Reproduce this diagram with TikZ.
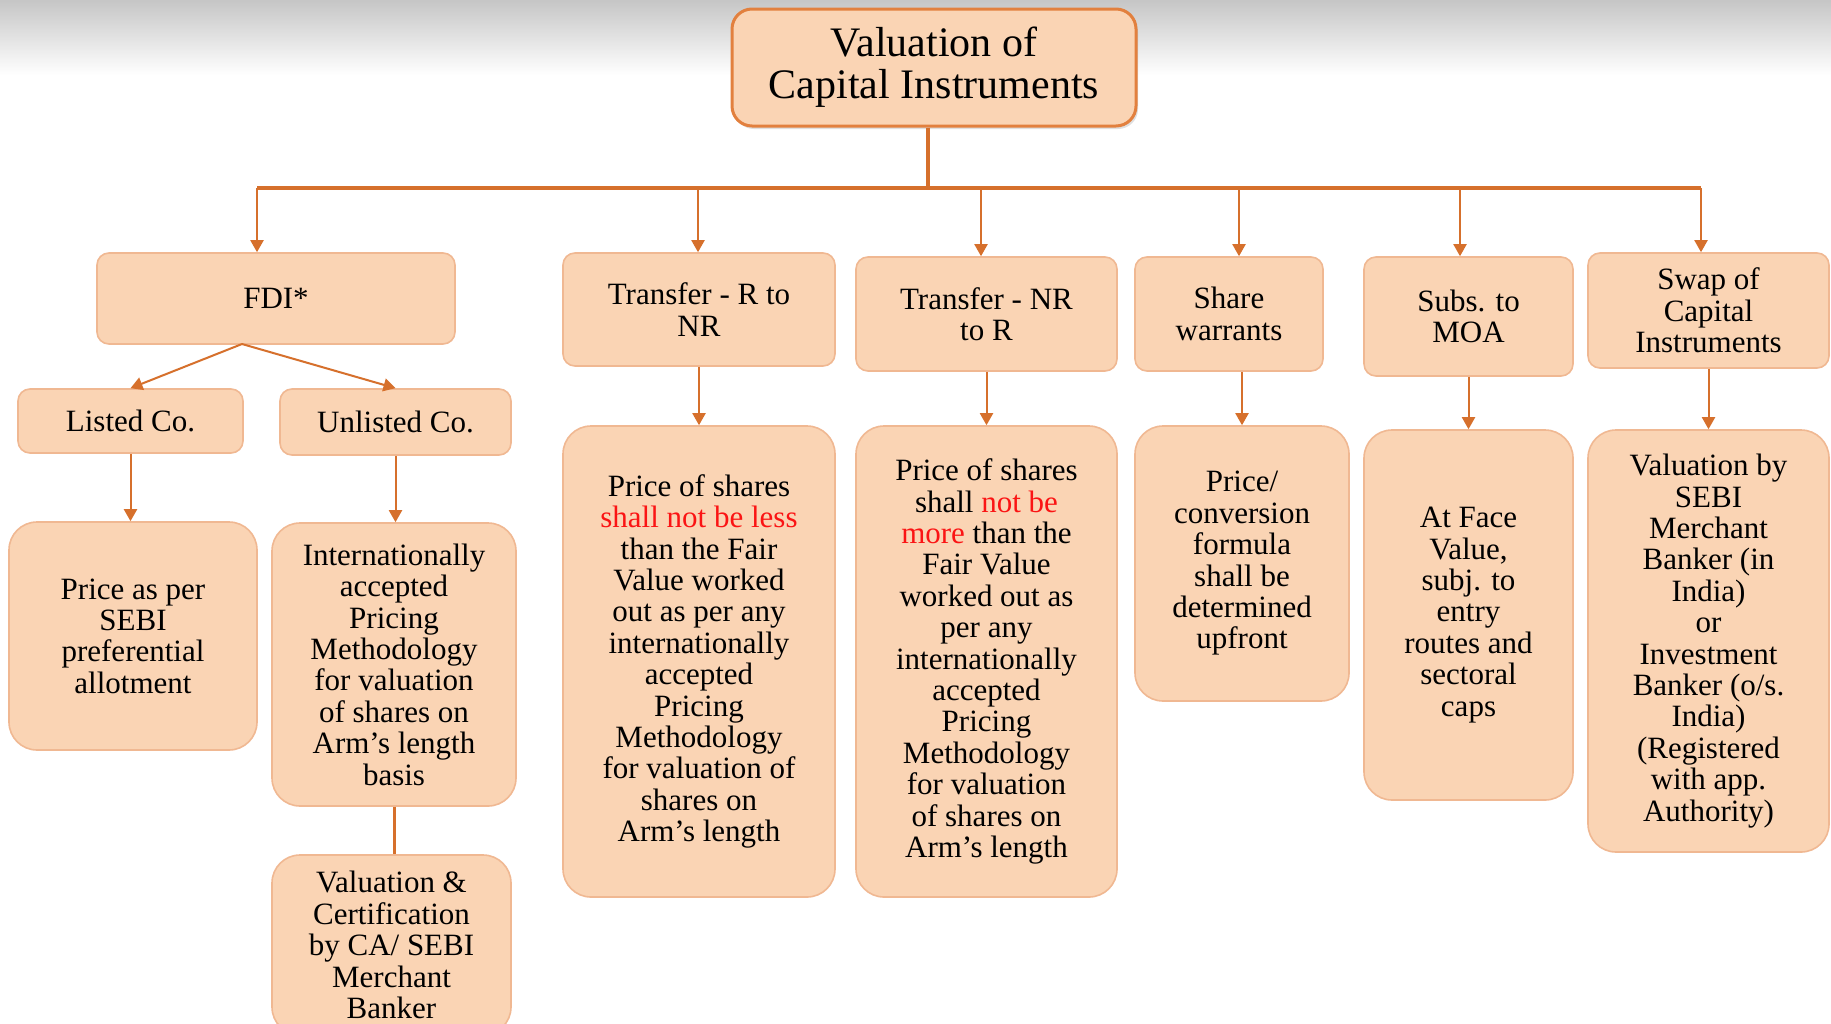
\documentclass[tikz,border=0pt]{standalone}
\usepackage{fontspec}
\setmainfont{Liberation Serif}
\usetikzlibrary{arrows.meta,shadows}

\definecolor{boxfill}{RGB}{250,212,180}
\definecolor{boxline}{RGB}{240,184,146}
\definecolor{rootline}{RGB}{226,128,62}
\definecolor{wirecol}{RGB}{214,112,44}
\definecolor{alert}{RGB}{250,20,20}

\tikzset{
	wh/.style 2 args={minimum width=#1pt, minimum height=#2pt},
	box/.style={draw=boxline, line width=0.8pt, fill=boxfill, rounded corners=6pt,
		align=center, inner sep=0pt, font=\fontsize{15.5}{15.7}\selectfont},
	bigbox/.style={box, rounded corners=14pt},
	wire/.style={draw=wirecol, line width=1pt},
	arr/.style={wire, -{Triangle[length=6pt,width=6.5pt]}},
}

\begin{document}
\begin{tikzpicture}[x=0.5pt, y=-0.5pt]
		\useasboundingbox (0,0) rectangle (1831,1023);
		\clip (0,0) rectangle (1831,1023);
		\fill[white] (0,0) rectangle (1831,1023);
		\shade[top color=gray!45, bottom color=white] (0,0) rectangle (1831,75);
		
		% top
		\node[box, wh={202}{58.5}, draw=rootline, line width=1.5pt, rounded corners=10pt,
			drop shadow={opacity=0.25, shadow xshift=1pt, shadow yshift=-1.5pt},
			font=\fontsize{21}{21}\selectfont] (root) at (934,67.5) {Valuation of\\Capital Instruments};
		
		% first row
		\node[box, wh={179}{45.5}]   (fdi)  at (276,298.5)  {FDI*};
		\node[box, wh={136}{56.5}]   (rnr)  at (699,309.5)  {Transfer - R to\\NR};
		\node[box, wh={130.5}{57}]   (nrr)  at (986.5,314)  {Transfer - NR\\to R};
		\node[box, wh={94}{57}]      (warr) at (1229,314)   {Share\\warrants};
		\node[box, wh={104.5}{59.5}] (moa)  at (1468.5,316.5) {Subs. to\\MOA};
		\node[box, wh={120.5}{57.5}] (swap) at (1708.5,310.5) {Swap of\\Capital\\Instruments};
		
		\node[box, wh={112.5}{32}] (listed)   at (130.5,421) {Listed Co.};
		\node[box, wh={115.5}{33}] (unlisted) at (395.5,422) {Unlisted Co.};
		
		% second row
		\node[bigbox, wh={124}{114}] (sebi) at (133,636)
			{Price as per\\SEBI\\preferential\\allotment};
		\node[bigbox, wh={122}{141.5}] (intl) at (394,664.5)
			{Internationally\\accepted\\Pricing\\Methodology\\for valuation\\of shares on\\Arm's length\\basis};
		\node[bigbox, wh={119.5}{90}] (cert) at (391.5,945)
			{Valuation \&\\Certification\\by CA/ SEBI\\Merchant\\Banker};
		\node[bigbox, wh={136}{235.5}] (fairnr) at (699,661.5)
			{Price of shares\\\textcolor{alert}{shall not be less}\\than the Fair\\Value worked\\out as per any\\internationally\\accepted\\Pricing\\Methodology\\for valuation of\\shares on\\Arm's length};
		\node[bigbox, wh={130.5}{235.5}] (fairrn) at (986.5,661.5)
			{Price of shares\\shall \textcolor{alert}{not be}\\\textcolor{alert}{more} than the\\Fair Value\\worked out as\\per any\\internationally\\accepted\\Pricing\\Methodology\\for valuation\\of shares on\\Arm's length};
		\node[bigbox, wh={107}{137.5}] (conv) at (1242,563.5)
			{Price/\\conversion\\formula\\shall be\\determined\\upfront};
		\node[bigbox, wh={104.5}{185}] (face) at (1468.5,615)
			{At Face\\Value,\\subj. to\\entry\\routes and\\sectoral\\caps};
		\node[bigbox, wh={120.5}{211}] (merch) at (1708.5,641)
			{Valuation by\\SEBI\\Merchant\\Banker (in\\India)\\or\\Investment\\Banker (o/s.\\India)\\(Registered\\with app.\\Authority)};
		
		% connectors
		\coordinate (bus_l) at (257,188);
		\coordinate (bus_r) at (1701,188);
		\draw[wire, line width=1.6pt] (root.south -| 928,0) -- (928,188);
		\draw[wire, line width=1.6pt] (bus_l) -- (bus_r);
		\foreach \x/\to in {257/fdi, 698/rnr, 981/nrr, 1239/warr, 1460/moa, 1701/swap}
			\draw[arr] (\x,188) -- (\x,188 |- \to.north);
		
		\coordinate (split) at (242,344);
		\draw[arr] (split) -- (listed.north);
		\draw[arr] (split) -- (unlisted.north);
		
		\draw[arr] (listed.south) -- (listed.south |- sebi.north);
		\draw[arr] (unlisted.south) -- (unlisted.south |- intl.north);
		\draw[wire, line width=1.5pt] (intl.south) -- (intl.south |- cert.north);
		\draw[arr] (rnr.south) -- (rnr.south |- fairnr.north);
		\draw[arr] (nrr.south) -- (nrr.south |- fairrn.north);
		\draw[arr] (conv.north |- warr.south) -- (conv.north);
		\draw[arr] (face.north |- moa.south) -- (face.north);
		\draw[arr] (merch.north |- swap.south) -- (merch.north);
	\end{tikzpicture}
\end{document}
